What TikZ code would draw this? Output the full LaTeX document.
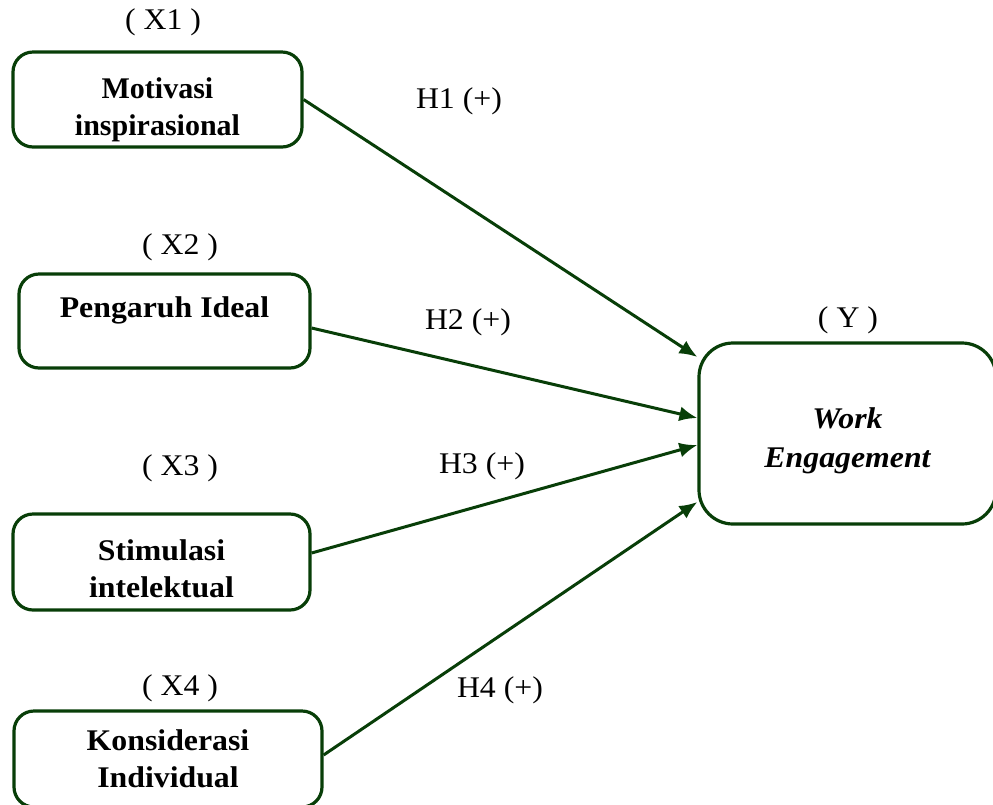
\documentclass[tikz,border=0pt]{standalone}
\usepackage{fontspec}
\setmainfont[FakeStretch=1.06]{Liberation Serif}
\newfontfamily\plainserif{Liberation Serif}
\usetikzlibrary{arrows.meta}
\definecolor{boxgreen}{RGB}{8,62,8}

\begin{document}
\begin{tikzpicture}[x=0.5pt,y=-0.5pt,
    varbox/.style={draw=boxgreen,line width=1.6pt,rounded corners=10pt,inner sep=0pt},
    inbox/.style={align=center,inner sep=0pt,font=\fontsize{15}{18.5}\selectfont\bfseries},
    tag/.style={font=\fontsize{15}{17}\selectfont,inner sep=0pt},
    arr/.style={draw=boxgreen,line width=1.5pt,-{Latex[length=9pt,width=7.5pt]}}]
      \useasboundingbox (0,0) rectangle (993,805);
      \node[varbox,minimum width=144.5pt,minimum height=47.5pt,
        label={[inbox,font=\plainserif\fontsize{15}{18.5}\selectfont\bfseries,yshift=-5pt]center:{Motivasi\\inspirasional}}] (m1) at (157.5,99.5) {};
      \node[varbox,minimum width=145.5pt,minimum height=47pt,
        label={[inbox,yshift=5.5pt]center:{Pengaruh Ideal}}] (m2) at (164.5,321) {};
      \node[varbox,minimum width=148.5pt,minimum height=48pt,
        label={[inbox,yshift=-3.5pt]center:{Stimulasi\\intelektual}}] (m3) at (161.5,562) {};
      \node[varbox,minimum width=154pt,minimum height=48pt,
        label={[inbox]center:{Konsiderasi\\Individual}}] (m4) at (168,759) {};
      \node[varbox,rounded corners=17pt,minimum width=148.5pt,minimum height=90.5pt,
        label={[inbox,font=\fontsize{15}{19.5}\selectfont\bfseries\itshape,yshift=-3.5pt]center:{Work\\Engagement}}] (y) at (847.5,433.5) {};
      \node[tag] (x1) at (163,22) {( X1 )};
      \node[tag] (x2) at (180,247) {( X2 )};
      \node[tag] (x3) at (180,468) {( X3 )};
      \node[tag] (x4) at (180,688) {( X4 )};
      \node[tag] (yl) at (848,320) {( Y )};
      \draw[arr] (m1.east) -- ([yshift=38.25pt]y.west);
      \draw[arr] ([yshift=-3.5pt]m2.east) -- ([yshift=7.75pt]y.west);
      \draw[arr] ([yshift=4.5pt]m3.east) -- ([yshift=-5.75pt]y.west);
      \draw[arr] ([yshift=2pt]m4.east) -- ([yshift=-34.25pt]y.west);
      \node[tag] (h1) at (459,101) {H1 (+)};
      \node[tag] (h2) at (468,322) {H2 (+)};
      \node[tag] (h3) at (482,466) {H3 (+)};
      \node[tag] (h4) at (500,690) {H4 (+)};
    \end{tikzpicture}
\end{document}
